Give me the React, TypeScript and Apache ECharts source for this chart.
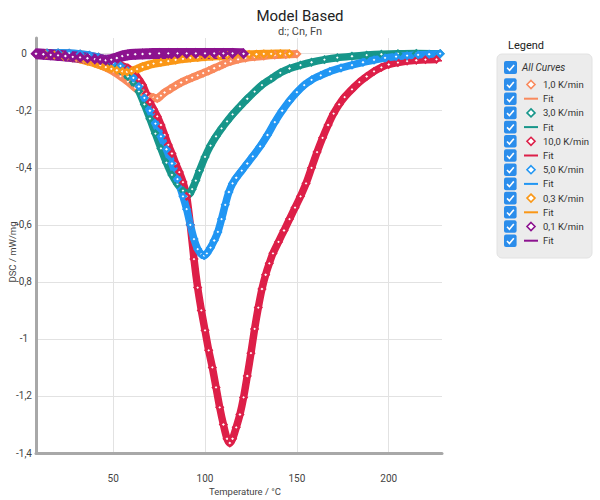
import React, { useEffect, useRef } from "react";
import * as echarts from "echarts";

// DSC curves (temperature °C, DSC mW/mg) for each heating rate
const rate1Data: [number, number][] = [
  [8, 0], [14, -0.001], [20, -0.004], [25, -0.008], [30, -0.014], [34, -0.02], [38, -0.027],
  [42, -0.036], [46, -0.048], [50, -0.062], [54, -0.079], [58, -0.098], [62, -0.12], [66, -0.138],
  [69, -0.148], [72, -0.154], [74, -0.157], [76, -0.147], [78, -0.136], [81, -0.124], [84, -0.112],
  [87, -0.101], [90, -0.092], [93, -0.084], [96, -0.076], [99, -0.068], [102, -0.06], [105, -0.051],
  [108, -0.043], [111, -0.034], [114, -0.027], [118, -0.02], [122, -0.015], [127, -0.011],
  [132, -0.008], [138, -0.005], [144, -0.003], [150, -0.001],
];
const rate1Fit: [number, number][] = [
  [8, 0], [20, -0.003], [30, -0.013], [40, -0.03], [50, -0.06], [58, -0.096], [64, -0.128],
  [70, -0.15], [74, -0.154], [78, -0.138], [84, -0.113], [90, -0.093], [96, -0.077], [102, -0.061],
  [108, -0.044], [114, -0.028], [120, -0.018], [128, -0.011], [136, -0.006], [144, -0.003], [150, -0.002],
];

const rate3Data: [number, number][] = [
  [8, 0], [14, 0.002], [20, 0.002], [26, 0.001], [32, -0.003], [37, -0.01], [42, -0.02], [46, -0.03],
  [50, -0.043], [54, -0.06], [58, -0.08], [61, -0.1], [64, -0.132], [67, -0.178], [70, -0.228],
  [73, -0.28], [76, -0.332], [79, -0.382], [82, -0.425], [85, -0.457], [88, -0.48], [90, -0.49],
  [91.5, -0.492], [93, -0.475], [95, -0.445], [97, -0.41], [100, -0.362], [103, -0.322], [106, -0.29],
  [109, -0.262], [112, -0.237], [115, -0.213], [119, -0.185], [123, -0.158], [127, -0.133],
  [131, -0.11], [136, -0.088], [141, -0.067], [146, -0.052], [152, -0.04], [158, -0.03], [165, -0.021],
  [172, -0.014], [180, -0.009], [188, -0.005], [196, -0.002], [205, 0], [215, 0.001], [228, 0],
];
const rate3Fit: [number, number][] = [
  [8, 0], [20, 0.001], [30, -0.002], [40, -0.014], [50, -0.04], [58, -0.078], [64, -0.13],
  [70, -0.225], [76, -0.328], [82, -0.418], [86, -0.458], [89, -0.475], [91.5, -0.478], [94, -0.455],
  [97, -0.41], [100, -0.365], [104, -0.315], [108, -0.272], [112, -0.235], [118, -0.19], [124, -0.15],
  [130, -0.115], [136, -0.087], [143, -0.062], [150, -0.043], [158, -0.029], [166, -0.019],
  [175, -0.011], [185, -0.006], [195, -0.003], [210, -0.001], [229, 0],
];

const rate10Data: [number, number][] = [
  [8, 0], [14, 0.002], [20, 0.002], [26, 0.001], [32, -0.002], [37, -0.006], [42, -0.012], [46, -0.02],
  [50, -0.03], [54, -0.04], [58, -0.05], [61, -0.065], [64, -0.09], [66, -0.11], [68, -0.14],
  [70, -0.17], [72, -0.195], [74, -0.22], [76, -0.25], [78, -0.285], [80, -0.32], [82, -0.35],
  [84, -0.385], [86, -0.415], [88, -0.45], [90, -0.5], [92, -0.6], [94, -0.72], [96, -0.82],
  [98, -0.9], [100, -0.97], [102, -1.04], [104, -1.1], [106, -1.17], [108, -1.24], [110, -1.3],
  [112, -1.35], [113.5, -1.365], [115, -1.35], [117, -1.31], [119, -1.265], [121, -1.205],
  [123, -1.13], [125, -1.05], [127, -0.965], [129, -0.89], [131, -0.825], [133, -0.775],
  [135, -0.735], [137, -0.7], [140, -0.66], [143, -0.62], [146, -0.58], [149, -0.54], [152, -0.5],
  [155, -0.455], [158, -0.4], [161, -0.345], [164, -0.295], [167, -0.25], [170, -0.21],
  [173, -0.178], [176, -0.152], [180, -0.125], [184, -0.1], [188, -0.08], [192, -0.062],
  [196, -0.048], [200, -0.038], [205, -0.031], [210, -0.026], [215, -0.023], [220, -0.021], [226, -0.02],
];
const rate10Fit: [number, number][] = [
  [8, 0], [20, 0.001], [30, -0.002], [40, -0.01], [50, -0.028], [58, -0.05], [64, -0.088],
  [70, -0.168], [76, -0.248], [82, -0.348], [86, -0.415], [90, -0.5], [94, -0.715], [98, -0.895],
  [102, -1.035], [106, -1.165], [110, -1.295], [113.5, -1.352], [117, -1.3], [121, -1.195],
  [125, -1.04], [129, -0.88], [133, -0.765], [137, -0.69], [143, -0.61], [149, -0.525], [155, -0.44],
  [161, -0.33], [167, -0.235], [173, -0.165], [180, -0.11], [186, -0.08], [192, -0.058],
  [200, -0.042], [210, -0.033], [220, -0.028], [229, -0.025],
];

const rate5Data: [number, number][] = [
  [8, 0], [14, 0.002], [20, 0.003], [26, 0.002], [32, -0.001], [37, -0.005], [42, -0.012], [46, -0.02],
  [50, -0.032], [54, -0.043], [58, -0.06], [61, -0.085], [64, -0.115], [67, -0.155], [70, -0.2],
  [73, -0.245], [76, -0.29], [79, -0.335], [82, -0.385], [85, -0.44], [88, -0.5], [90, -0.545],
  [92, -0.6], [94, -0.65], [96, -0.685], [98, -0.703], [99.5, -0.708], [101, -0.7], [103, -0.68],
  [105, -0.655], [107, -0.625], [109, -0.58], [111, -0.53], [113, -0.485], [115, -0.455],
  [117, -0.435], [120, -0.41], [123, -0.385], [126, -0.36], [130, -0.325], [134, -0.285],
  [138, -0.24], [142, -0.2], [146, -0.165], [150, -0.135], [154, -0.11], [158, -0.092], [163, -0.076],
  [168, -0.062], [174, -0.05], [180, -0.04], [186, -0.03], [192, -0.022], [198, -0.015], [204, -0.01],
  [210, -0.007], [216, -0.004], [222, -0.002], [228, 0],
];
const rate5Fit: [number, number][] = [
  [8, 0], [20, 0.002], [30, 0], [40, -0.009], [50, -0.03], [58, -0.058], [64, -0.112], [70, -0.197],
  [76, -0.288], [82, -0.383], [88, -0.497], [92, -0.597], [96, -0.683], [99.5, -0.704], [103, -0.675],
  [107, -0.615], [111, -0.515], [115, -0.44], [120, -0.395], [126, -0.345], [132, -0.29], [138, -0.225],
  [144, -0.17], [150, -0.125], [156, -0.095], [163, -0.07], [170, -0.053], [178, -0.038],
  [186, -0.027], [196, -0.017], [206, -0.01], [216, -0.005], [229, -0.002],
];

const rate03Data: [number, number][] = [
  [8, 0], [13, -0.002], [18, -0.005], [23, -0.009], [28, -0.014], [32, -0.019], [36, -0.026],
  [40, -0.033], [43, -0.04], [46, -0.047], [49, -0.053], [52, -0.058], [55, -0.062], [57.5, -0.064],
  [60, -0.061], [63, -0.054], [66, -0.046], [69, -0.04], [72, -0.035], [76, -0.03], [80, -0.026],
  [84, -0.022], [88, -0.018], [92, -0.015], [96, -0.013], [100, -0.011], [104, -0.009], [108, -0.008],
  [112, -0.006], [116, -0.005], [120, -0.004], [124, -0.003], [128, -0.002], [132, -0.001],
  [136, -0.001], [141, 0], [146, 0],
];
const rate03Fit: [number, number][] = [
  [8, 0], [18, -0.004], [28, -0.013], [36, -0.025], [44, -0.042], [50, -0.055], [55, -0.061],
  [58, -0.062], [62, -0.056], [66, -0.047], [72, -0.036], [80, -0.027], [90, -0.017], [100, -0.011],
  [110, -0.007], [120, -0.004], [130, -0.002], [146, 0],
];

const rate01Data: [number, number][] = [
  [8, 0], [12, -0.002], [16, -0.004], [20, -0.006], [24, -0.008], [28, -0.011], [32, -0.013],
  [36, -0.016], [40, -0.019], [43, -0.021], [46, -0.023], [49, -0.021], [52, -0.015], [55, -0.008],
  [58, -0.004], [62, -0.002], [66, -0.001], [70, 0], [75, 0.001], [80, 0.001], [85, 0.001],
  [90, 0.001], [95, 0.001], [100, 0.001], [105, 0.001], [110, 0.001], [115, 0.001], [121, 0],
];
const rate01Fit: [number, number][] = [
  [8, 0], [16, -0.004], [24, -0.008], [32, -0.013], [40, -0.019], [46, -0.022], [50, -0.019],
  [54, -0.01], [58, -0.004], [64, -0.001], [72, 0.001], [90, 0.001], [110, 0.001], [121, 0],
];

const rateLabels = ["1,0 K/min", "3,0 K/min", "10,0 K/min", "5,0 K/min", "0,3 K/min", "0,1 K/min"];
const fitLabel = "Fit";
const allCurvesLabel = "All Curves";
const measuredSets = [rate1Data, rate3Data, rate10Data, rate5Data, rate03Data, rate01Data];
const fitSets = [rate1Fit, rate3Fit, rate10Fit, rate5Fit, rate03Fit, rate01Fit];

const rateColors = ["#F98A5D", "#17968A", "#DD1F48", "#2196F3", "#FA9716", "#8C128F"];
// band thickness of each measured curve
const bandWidths = [8, 7.5, 7.5, 7.5, 8.5, 11];
const FONT = "Roboto";

function checkbox(x: number, y: number, size: number) {
  return [
    { type: "rect", shape: { x, y, width: size, height: size, r: 2 }, style: { fill: "#2B8DEB" } },
    {
      type: "polyline",
      shape: {
        points: [
          [x + size * 0.24, y + size * 0.52],
          [x + size * 0.43, y + size * 0.72],
          [x + size * 0.78, y + size * 0.3],
        ],
      },
      style: { stroke: "#fff", lineWidth: 1.6, fill: null },
    },
  ];
}

function buildLegend() {
  const els: any[] = [];
  els.push({
    type: "text",
    x: 508,
    y: 45,
    style: { text: "Legend", font: `11px ${FONT}`, fill: "#222", align: "left", verticalAlign: "middle" },
  });
  els.push({
    type: "rect",
    shape: { x: 497, y: 54, width: 95, height: 204, r: 5 },
    style: { fill: "#ececec", stroke: "#e2e2e2", lineWidth: 1 },
  });
  els.push(...checkbox(504, 61, 13));
  els.push({
    type: "text",
    x: 522,
    y: 67.5,
    style: {
      text: allCurvesLabel,
      font: `italic 10px ${FONT}`,
      fill: "#333",
      align: "left",
      verticalAlign: "middle",
    },
  });
  const rows: { label: string; color: string; marker: boolean }[] = [];
  rateLabels.forEach((lab, i) => {
    rows.push({ label: lab, color: rateColors[i], marker: true });
    rows.push({ label: fitLabel, color: rateColors[i], marker: false });
  });
  rows.forEach((row, i) => {
    const cy = 84.5 + i * 14.2;
    els.push(...checkbox(504, cy - 6.3, 12.6));
    if (row.marker) {
      els.push({
        type: "polygon",
        shape: { points: [[531, cy - 4], [535, cy], [531, cy + 4], [527, cy]] },
        style: { fill: "#fff", stroke: row.color, lineWidth: 1.6 },
      });
    } else {
      els.push({
        type: "line",
        shape: { x1: 524, y1: cy, x2: 538, y2: cy },
        style: { stroke: row.color, lineWidth: 2 },
      });
    }
    els.push({
      type: "text",
      x: 543,
      y: cy,
      style: { text: row.label, font: `9.5px ${FONT}`, fill: "#333", align: "left", verticalAlign: "middle" },
    });
  });
  return els;
}

export default function App() {
  const ref = useRef<HTMLDivElement>(null);

  useEffect(() => {
    if (!ref.current) return;
    const chart = echarts.init(ref.current, null, { renderer: "svg" });

    const series: any[] = [];
    measuredSets.forEach((data, i) => {
      const thick = i === 5;
      series.push({
        name: rateLabels[i],
        type: "line",
        data,
        smooth: 0.3,
        showAllSymbol: true,
        symbol: "diamond",
        symbolSize: thick ? 7 : 6,
        lineStyle: { color: rateColors[i], width: bandWidths[i] },
        itemStyle: { color: "#fff", borderColor: rateColors[i], borderWidth: thick ? 3 : 2.4 },
        silent: true,
      });
      series.push({
        name: `${fitLabel} ${rateLabels[i]}`,
        type: "line",
        data: fitSets[i],
        smooth: 0.4,
        showSymbol: false,
        lineStyle: { color: rateColors[i], width: 1.4 },
        silent: true,
      });
    });

    const option: any = {
      animation: false,
      backgroundColor: "#fff",
      title: {
        text: "Model Based",
        subtext: "d:; Cn, Fn",
        left: "center",
        top: 3,
        itemGap: 3,
        textStyle: { fontFamily: FONT, fontSize: 15, fontWeight: "normal", color: "#222" },
        subtextStyle: { fontFamily: FONT, fontSize: 11, color: "#444" },
      },
      grid: { left: 36, right: 158, top: 38, bottom: 47 },
      xAxis: {
        type: "value",
        min: 8,
        max: 229,
        splitNumber: 5,
        axisLine: { onZero: false, lineStyle: { color: "#a8a8a8", width: 3 } },
        axisTick: { show: false },
        splitLine: { show: true, showMinLine: false, showMaxLine: false, lineStyle: { color: "#e2e2e2" } },
        axisLabel: {
          showMinLabel: false,
          showMaxLabel: false,
          margin: 20,
          fontFamily: FONT,
          fontSize: 10,
          color: "#444",
        },
      },
      yAxis: {
        type: "value",
        min: -1.4,
        max: 0.055,
        interval: 0.2,
        axisLine: { show: true, onZero: false, lineStyle: { color: "#a8a8a8", width: 3 } },
        axisTick: { show: false },
        splitLine: { show: true, showMaxLine: false, lineStyle: { color: "#e2e2e2" } },
        axisLabel: {
          showMaxLabel: false,
          align: "center",
          margin: 12,
          fontFamily: FONT,
          fontSize: 10,
          color: "#444",
          formatter: (v: number) => String(Math.round(v * 10) / 10).replace(".", ","),
        },
      },
      graphic: [
        {
          type: "text",
          x: 12,
          y: 252,
          rotation: Math.PI / 2,
          style: {
            text: "DSC / mW/mg",
            font: `9.5px ${FONT}`,
            fill: "#444",
            align: "center",
            verticalAlign: "middle",
          },
        },
        {
          type: "text",
          x: 245,
          y: 491,
          style: {
            text: "Temperature / °C",
            font: `9.5px ${FONT}`,
            fill: "#444",
            align: "center",
            verticalAlign: "middle",
          },
        },
        ...buildLegend(),
      ],
      series,
    };

    chart.setOption(option);
    return () => chart.dispose();
  }, []);

  return (
    <div
      ref={ref}
      style={{ position: "fixed", left: 0, top: 0, width: 600, height: 500, background: "#fff" }}
    />
  );
}
